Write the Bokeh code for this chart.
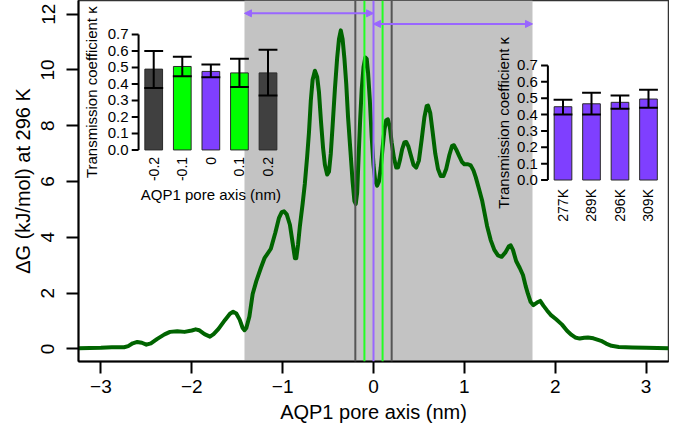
import math
from bokeh.plotting import figure
from bokeh.models import (Range1d, BoxAnnotation, Span, Arrow, NormalHead,
                          FixedTicker)
from bokeh.embed import file_html
from bokeh.resources import INLINE
from bokeh.core.properties import value

# ---------------- data ----------------
pore_x = [-3.247, -3.0, -2.88, -2.80, -2.745, -2.70, -2.65, -2.60, -2.55, -2.50,
          -2.45, -2.38, -2.30, -2.24, -2.16, -2.08, -2.00, -1.957, -1.92, -1.86,
          -1.80, -1.76, -1.706, -1.634, -1.58, -1.545, -1.51, -1.473, -1.44, -1.42,
          -1.40, -1.366, -1.33, -1.29, -1.24, -1.20, -1.13, -1.08, -1.04, -1.01,
          -0.985, -0.955, -0.92, -0.89, -0.865, -0.85, -0.83, -0.81, -0.78, -0.756,
          -0.73, -0.71, -0.69, -0.67, -0.645, -0.62, -0.60, -0.577, -0.555, -0.535,
          -0.51, -0.49, -0.47, -0.45, -0.425, -0.40, -0.38, -0.36, -0.34, -0.32,
          -0.30, -0.28, -0.254, -0.23, -0.21, -0.195, -0.18, -0.165, -0.147, -0.13,
          -0.11, -0.09, -0.075, -0.06, -0.04, -0.02, 0.0, 0.02, 0.04, 0.06,
          0.08, 0.10, 0.12, 0.14, 0.158, 0.18, 0.20, 0.225, 0.25, 0.27,
          0.29, 0.315, 0.34, 0.36, 0.385, 0.41, 0.44, 0.47, 0.50, 0.53,
          0.56, 0.585, 0.60, 0.625, 0.65, 0.68, 0.71, 0.74, 0.77, 0.80,
          0.835, 0.865, 0.885, 0.91, 0.945, 0.975, 1.0, 1.04, 1.07, 1.10,
          1.126, 1.16, 1.197, 1.25, 1.29, 1.33, 1.37, 1.41, 1.45, 1.49,
          1.51, 1.535, 1.57, 1.61, 1.645, 1.675, 1.70, 1.73, 1.76, 1.80,
          1.835, 1.87, 1.91, 1.95, 2.01, 2.075, 2.13, 2.18, 2.22, 2.27,
          2.32, 2.36, 2.42, 2.505, 2.56, 2.62, 2.70, 2.85, 3.0, 3.247]
dG = [0.02, 0.04, 0.06, 0.06, 0.06, 0.10, 0.20, 0.25, 0.22, 0.15,
      0.20, 0.36, 0.52, 0.61, 0.63, 0.61, 0.66, 0.70, 0.67, 0.53,
      0.44, 0.53, 0.72, 1.04, 1.26, 1.33, 1.27, 1.05, 0.75, 0.67,
      0.75, 1.16, 1.97, 2.43, 2.90, 3.25, 3.59, 4.17, 4.70, 4.90,
      4.93, 4.82, 4.45, 3.80, 3.25, 3.25, 3.75, 4.41, 5.20, 5.91,
      6.90, 7.77, 8.90, 9.65, 9.97, 9.75, 9.20, 8.11, 7.20, 6.60,
      6.25, 6.35, 7.00, 8.00, 9.30, 10.43, 11.10, 11.42, 11.10, 10.40,
      9.50, 8.30, 7.10, 6.00, 5.30, 5.20, 5.60, 6.80, 8.20, 9.30,
      10.10, 10.45, 10.40, 9.90, 8.90, 7.60, 6.60, 6.00, 5.85, 6.00,
      6.50, 7.20, 7.85, 8.20, 8.23, 7.95, 7.40, 6.85, 6.50, 6.50,
      6.75, 7.15, 7.40, 7.42, 7.25, 6.95, 6.60, 6.50, 6.75, 7.50,
      8.30, 8.70, 8.72, 8.45, 7.80, 7.00, 6.45, 6.20, 6.20, 6.45,
      6.95, 7.28, 7.30, 7.15, 6.90, 6.70, 6.62, 6.62, 6.58, 6.40,
      6.15, 5.75, 5.30, 4.41, 3.90, 3.55, 3.35, 3.30, 3.45, 3.68,
      3.71, 3.55, 3.15, 2.90, 2.65, 2.25, 1.97, 1.68, 1.57, 1.66,
      1.72, 1.55, 1.38, 1.22, 1.06, 0.87, 0.65, 0.50, 0.41, 0.37,
      0.40, 0.41, 0.38, 0.29, 0.19, 0.11, 0.07, 0.05, 0.04, 0.02]

shade_lo = -1.42
shade_hi = 1.75
arrow_y = [12.03, 11.65]

x_ticks = [-3, -2, -1, 0, 1, 2, 3]
y_ticks = [0, 2, 4, 6, 8, 10, 12]

kappa_pos = [-0.2, -0.1, 0.0, 0.1, 0.2]
kappa_pos_labels = ["-0.2", "-0.1", "0", "0.1", "0.2"]
kappa_pos_val = [0.490, 0.506, 0.476, 0.467, 0.467]
kappa_pos_lo = [0.376, 0.447, 0.440, 0.382, 0.330]
kappa_pos_hi = [0.600, 0.565, 0.518, 0.553, 0.608]

temps = ["277K", "289K", "296K", "309K"]
kappa_T_val = [0.448, 0.466, 0.475, 0.495]
kappa_T_lo = [0.400, 0.400, 0.436, 0.442]
kappa_T_hi = [0.490, 0.533, 0.517, 0.552]

kappa_ticks = [0.0, 0.1, 0.2, 0.3, 0.4, 0.5, 0.6, 0.7]

# ---------------- styles ----------------
FONT = "Liberation Sans"
C_DARK = "#404040"
C_GREEN = "#00FF00"
C_PURPLE = "#7F3FFF"
C_LINE_PURPLE = "#9966FF"
pos_colors = [C_DARK, C_GREEN, C_PURPLE, C_GREEN, C_DARK]
vline_colors = ["#555555", "#22FF22", C_LINE_PURPLE, "#22FF22", "#555555"]

REF_L, REF_R, REF_T, REF_B = 80.0, 684.0, 1.0, 373.0

p = figure(width=669, height=427,
           x_range=Range1d(-3.247, 3.247), y_range=Range1d(-0.452, 12.49),
           output_backend="svg", toolbar_location=None,
           min_border_left=78, min_border_right=1, min_border_top=0,
           min_border_bottom=66)
p.title.visible = False
p.background_fill_color = "white"
p.border_fill_color = "white"
p.outline_line_color = "#333333"
p.outline_line_width = 1.5
p.xgrid.visible = False
p.ygrid.visible = False

p.extra_x_ranges = {
    "ix1": Range1d((REF_L - 157.0) / 29.25, (REF_R - 157.0) / 29.25),
    "ix2": Range1d((REF_L - 576.0) / 29.17, (REF_R - 576.0) / 29.17),
}
p.extra_y_ranges = {
    "iy1": Range1d((155.0 - REF_B) / 170.0, (155.0 - REF_T) / 170.0),
    "iy2": Range1d((186.0 - REF_B) / 168.6, (186.0 - REF_T) / 168.6),
}

for ax in (p.xaxis[0], p.yaxis[0]):
    ax.axis_line_color = "black"
    ax.axis_line_width = 2
    ax.major_tick_line_color = "black"
    ax.major_tick_line_width = 2
    ax.major_tick_out = 12
    ax.major_tick_in = 0
    ax.minor_tick_line_color = None
    ax.major_label_text_font = FONT
    ax.major_label_text_font_size = "19px"
    ax.major_label_text_color = "black"
    ax.axis_label_text_font = FONT
    ax.axis_label_text_font_size = "20px"
    ax.axis_label_text_font_style = "normal"
    ax.axis_label_text_color = "black"
p.xaxis.ticker = FixedTicker(ticks=x_ticks)
p.yaxis.ticker = FixedTicker(ticks=y_ticks)
p.xaxis.axis_label = "AQP1 pore axis (nm)"
p.yaxis.axis_label = "\u0394G (kJ/mol) at 296 K"
p.yaxis.major_label_orientation = "vertical"
p.xaxis.major_label_standoff = 6
p.yaxis.major_label_standoff = 12
p.xaxis.axis_label_standoff = 5
p.yaxis.axis_label_standoff = 5

p.add_layout(BoxAnnotation(left=shade_lo, right=shade_hi, fill_color="#C3C3C3",
                           fill_alpha=1.0, line_color=None, level="underlay"))

for xv, c in zip(kappa_pos, vline_colors):
    p.add_layout(Span(location=xv, dimension="height", line_color=c,
                      line_width=2))

for (xs, xe), ya in zip([(shade_lo, 0.0), (0.0, shade_hi)], arrow_y):
    p.add_layout(Arrow(
        start=NormalHead(size=7, fill_color=C_LINE_PURPLE, line_color=C_LINE_PURPLE),
        end=NormalHead(size=7, fill_color=C_LINE_PURPLE, line_color=C_LINE_PURPLE),
        x_start=xs, y_start=ya, x_end=xe, y_end=ya,
        line_color=C_LINE_PURPLE, line_width=2))

p.line(pore_x, dG, line_color="#006400", line_width=4, line_join="round")


def inset(xr, yr, labels, vals, los, his, colors, ylabel_off, xlab_off):
    n = len(labels)
    idx = list(range(n))
    axis_x = -0.53
    tick_len = 7.0 / 29.2
    kw = dict(x_range_name=xr, y_range_name=yr)
    p.vbar(x=idx, top=vals, bottom=0, width=0.62, fill_color=colors,
           line_color="#2a2a2a", line_width=1, **kw)
    p.segment(x0=idx, y0=los, x1=idx, y1=his, line_color="black",
              line_width=2, **kw)
    cap = 0.33
    p.segment(x0=[i - cap for i in idx], y0=his, x1=[i + cap for i in idx],
              y1=his, line_color="black", line_width=2, **kw)
    p.segment(x0=[i - cap for i in idx], y0=los, x1=[i + cap for i in idx],
              y1=los, line_color="black", line_width=2, **kw)
    p.segment(x0=[axis_x], y0=[kappa_ticks[0]], x1=[axis_x],
              y1=[kappa_ticks[-1]], line_color="black", line_width=2, **kw)
    p.segment(x0=[axis_x] * len(kappa_ticks), y0=kappa_ticks,
              x1=[axis_x - tick_len] * len(kappa_ticks), y1=kappa_ticks,
              line_color="black", line_width=2, **kw)
    p.text(x=[axis_x] * len(kappa_ticks), y=kappa_ticks,
           text=["%.1f" % t for t in kappa_ticks], x_offset=-10,
           text_align="right", text_baseline="middle",
           text_font=value(FONT), text_font_size="15px", text_color="black",
           **kw)
    p.text(x=[axis_x], y=[(kappa_ticks[0] + kappa_ticks[-1]) / 2],
           text=["Transmission coefficient \u03ba"], x_offset=ylabel_off,
           angle=math.pi / 2, text_align="center", text_baseline="middle",
           text_font=value(FONT), text_font_size="15px", text_color="black",
           **kw)
    p.text(x=idx, y=[0] * n, text=labels, y_offset=xlab_off,
           angle=math.pi / 2, text_align="right", text_baseline="middle",
           text_font=value(FONT), text_font_size="14px", text_color="black",
           **kw)


inset("ix1", "iy1", kappa_pos_labels, kappa_pos_val, kappa_pos_lo,
      kappa_pos_hi, pos_colors, -47, 7)
p.text(x=[(len(kappa_pos) - 1) / 2], y=[0], text=["AQP1 pore axis (nm)"],
       y_offset=45, text_align="center", text_baseline="middle",
       text_font=value(FONT), text_font_size="15px", text_color="black",
       x_range_name="ix1", y_range_name="iy1")
inset("ix2", "iy2", temps, kappa_T_val, kappa_T_lo, kappa_T_hi,
      [C_PURPLE] * len(temps), -44, 9)

open("out.html", "w").write(file_html(p, INLINE))
